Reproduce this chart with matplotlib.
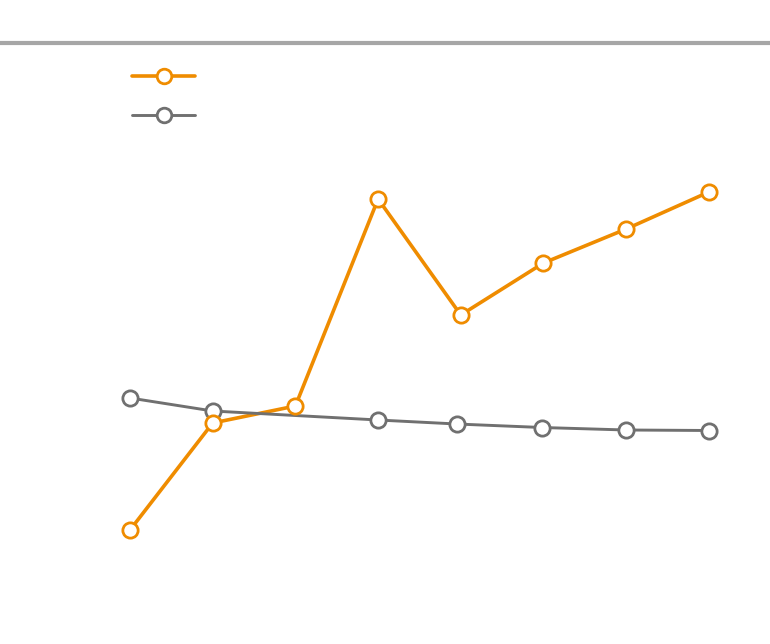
import numpy as np
import matplotlib.pyplot as plt

# Values (arbitrary units)
orange_x = [0, 1, 2, 3, 4, 5, 6, 7]
orange_y = [30.0, 40.7, 42.4, 63.1, 51.5, 56.7, 60.1, 63.8]

gray_x = [0, 1, 3, 3.95, 4.98, 6.0, 7]
gray_y = [43.2, 41.9, 41.0, 40.6, 40.25, 40.0, 39.95]

ORANGE = '#ef8c00'
GRAY = '#707070'

fig = plt.figure(figsize=(7.7, 6.44), dpi=100)
ax = fig.add_axes([0, 0, 768 / 770, 601 / 644])

# lines first, then markers so orange circles sit on top
ax.plot(orange_x, orange_y, color=ORANGE, lw=2.6, zorder=2, solid_capstyle='round')
ax.plot(gray_x, gray_y, color=GRAY, lw=2.1, zorder=3)
ax.plot(gray_x, gray_y, ls='none', marker='o', ms=11, mfc='white',
        mec=GRAY, mew=2.0, zorder=4)
ax.plot(orange_x, orange_y, ls='none', marker='o', ms=11, mfc='white',
        mec=ORANGE, mew=2.0, zorder=5)

# legend handles
h1, = ax.plot([], [], color=ORANGE, lw=2.6, marker='o', ms=10.5, mfc='white',
              mec=ORANGE, mew=2.0, solid_capstyle='round')
h2, = ax.plot([], [], color=GRAY, lw=2.1, marker='o', ms=10.5, mfc='white',
              mec=GRAY, mew=2.0, solid_capstyle='round')
ax.legend([h1, h2], ['', ''], loc='upper left', frameon=False,
          bbox_to_anchor=(125 / 768, 1 - 20 / 601), handlelength=4.55,
          labelspacing=1.8, borderpad=0, handletextpad=0)

ax.set_xlim(-1.572, 7.715)
ax.set_ylim(18.6, 78.7)

for side in ['left', 'right', 'bottom']:
    ax.spines[side].set_visible(False)
ax.spines['top'].set_color('#a6a6a6')
ax.spines['top'].set_linewidth(3.0)
ax.set_xticks([])
ax.set_yticks([])

fig.savefig('out.png', dpi=100)
